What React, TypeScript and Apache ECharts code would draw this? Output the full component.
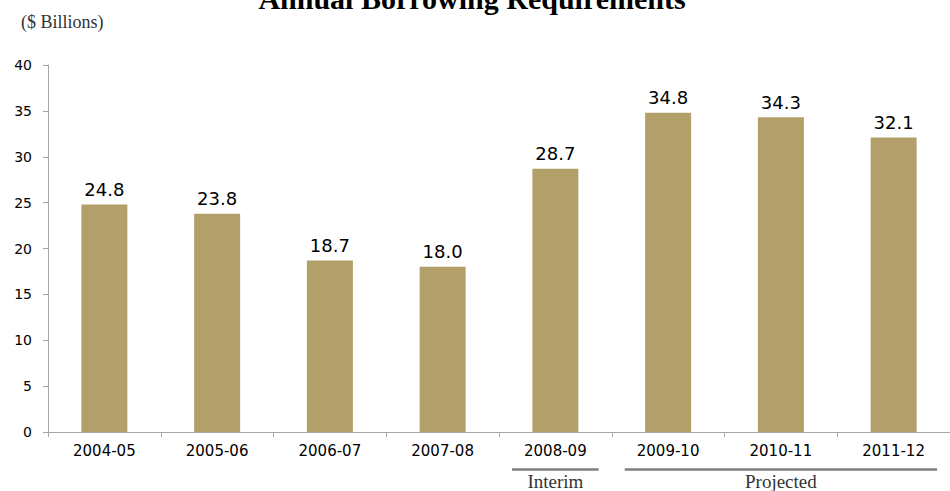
import React, { useEffect, useRef } from "react";
import * as echarts from "echarts";

// Fiscal years and annual borrowing requirements ($ billions)
const years = ["2004-05", "2005-06", "2006-07", "2007-08", "2008-09", "2009-10", "2010-11", "2011-12"];
const borrowing = [24.8, 23.8, 18.7, 18.0, 28.7, 34.8, 34.3, 32.1];
const yTicks = { min: 0, max: 40, interval: 5 };

// Bracketed period groups under the axis: [first category index, last category index, label]
const periods: [number, number, string][] = [
  [4, 4, "Interim"],
  [5, 7, "Projected"],
];

const SANS = "'DejaVu Sans', Verdana, sans-serif";
const SERIF = "'Liberation Serif', 'Times New Roman', serif";
const BAR = "#B39F6A";
const AXIS = "#A6A6A6";

export default function App() {
  const ref = useRef<HTMLDivElement>(null);

  useEffect(() => {
    if (!ref.current) return;
    const chart = echarts.init(ref.current, undefined, { renderer: "svg" });
    chart.setOption({
      animation: false,
      backgroundColor: "#ffffff",
      grid: { left: 48, top: 65, width: 914, height: 367 },
      xAxis: {
        type: "category",
        data: years,
        axisLine: { lineStyle: { color: AXIS, width: 1 } },
        axisTick: { show: true, length: 5, lineStyle: { color: AXIS } },
        axisLabel: { color: "#000", fontFamily: SANS, fontSize: 15, margin: 11 },
      },
      yAxis: {
        type: "value",
        min: yTicks.min,
        max: yTicks.max,
        interval: yTicks.interval,
        splitLine: { show: false },
        axisLine: { show: true, lineStyle: { color: AXIS, width: 1 } },
        axisTick: { show: true, length: 5, lineStyle: { color: AXIS } },
        axisLabel: { color: "#000", fontFamily: SANS, fontSize: 14, margin: 16 },
      },
      series: [
        {
          type: "bar",
          data: borrowing,
          barWidth: 46,
          itemStyle: { color: BAR },
          label: {
            show: true,
            position: "top",
            distance: 6,
            color: "#000",
            fontFamily: SANS,
            fontSize: 18,
            formatter: (p: any) => Number(p.value).toFixed(1),
          },
        },
      ],
    });

    // Place the period brackets using the category axis scale
    const step = chart.convertToPixel({ xAxisIndex: 0 }, 1) - chart.convertToPixel({ xAxisIndex: 0 }, 0);
    const elements: any[] = [];
    periods.forEach(([a, b, name]) => {
      const x1 = chart.convertToPixel({ xAxisIndex: 0 }, a) - step / 2 + 13;
      const x2 = chart.convertToPixel({ xAxisIndex: 0 }, b) + step / 2 - 13;
      elements.push({
        type: "line",
        shape: { x1, y1: 469.5, x2, y2: 469.5 },
        style: { stroke: "#7F7F7F", lineWidth: 2.5 },
      });
      elements.push({
        type: "text",
        x: (x1 + x2) / 2,
        y: 481,
        style: {
          text: name,
          fill: "#333",
          font: `19px ${SERIF}`,
          textAlign: "center",
          textVerticalAlign: "middle",
        },
      });
    });

    chart.setOption({
      graphic: [
        {
          type: "text",
          x: 472,
          y: -2,
          style: {
            text: "Annual Borrowing Requirements",
            fill: "#000",
            font: `bold 30px ${SERIF}`,
            textAlign: "center",
            textVerticalAlign: "middle",
          },
        },
        {
          type: "text",
          x: 21,
          y: 22,
          style: {
            text: "($ Billions)",
            fill: "#333",
            font: `18px ${SERIF}`,
            textAlign: "left",
            textVerticalAlign: "middle",
          },
        },
        ...elements,
      ],
    });

    return () => chart.dispose();
  }, []);

  return (
    <div
      ref={ref}
      style={{ position: "fixed", left: 0, top: 0, width: 950, height: 491, background: "#fff" }}
    />
  );
}
